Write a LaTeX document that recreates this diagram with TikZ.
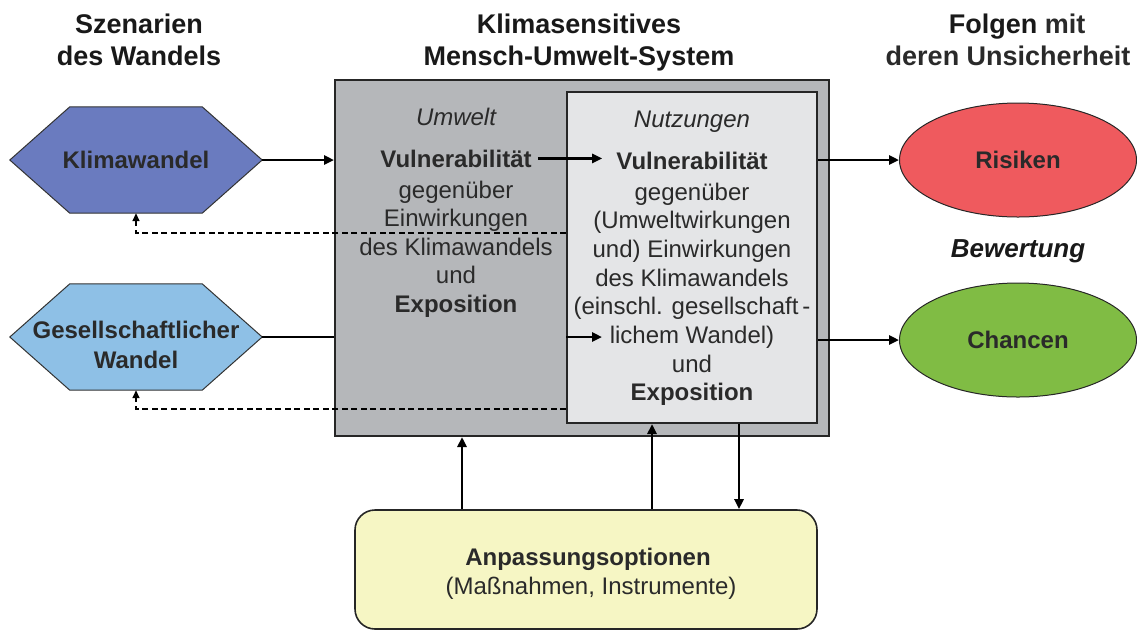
\documentclass[tikz,border=0pt]{standalone}
\usepackage{fontspec}
\setmainfont{Liberation Sans}
\usetikzlibrary{shapes.geometric,arrows.meta}

\definecolor{txtgray}{HTML}{2A2A2A}
\definecolor{shellgray}{HTML}{B5B7BA}
\definecolor{innergray}{HTML}{E4E5E7}
\definecolor{kwblue}{HTML}{6A7BBF}
\definecolor{gwblue}{HTML}{8EC0E6}
\definecolor{riskred}{HTML}{EF5A5E}
\definecolor{chancegreen}{HTML}{80BC44}
\definecolor{anpyellow}{HTML}{F6F6C4}

\begin{document}
\begin{tikzpicture}[x=1pt,y=-1pt,
  txt/.style={inner sep=0pt, text=txtgray, font=\fontsize{24}{29}\selectfont, anchor=base},
  btxt/.style={txt, font=\fontsize{24}{29}\selectfont\bfseries},
  ttl/.style={inner sep=0pt, text=black!90, font=\fontsize{27}{33}\selectfont\bfseries, anchor=base},
  arr/.style={line width=2.8pt, -{Triangle[length=10pt,width=9pt]}},
  link/.style={line width=2.8pt},
  dasharr/.style={line width=1.6pt, dash pattern=on 6pt off 3.5pt, -{Triangle[length=8pt,width=7pt]}},
  hexbox/.style={rectangle, inner sep=0pt, minimum width=252pt, minimum height=106pt},
  hexframe/.style={draw=black!80, line width=1pt},
  shell/.style={rectangle, draw=black!85, line width=2pt, inner sep=0pt},
  oval/.style={ellipse, draw=black!85, line width=1pt, inner sep=0pt,
    minimum width=237pt, minimum height=114pt, text=txtgray,
    font=\fontsize{24}{29}\selectfont\bfseries},
  panel/.style={rectangle, rounded corners=20pt, draw=black!85, line width=1.6pt,
    fill=anpyellow, inner sep=0pt}
]
\useasboundingbox (0,0) rectangle (1137,630);
\clip (0,0) rectangle (1137,630);

% column headings
\node[ttl] (h1a) at (139,33) {Szenarien};
\node[ttl] (h1b) at (139,65) {des Wandels};
\node[ttl] (h2a) at (579,33) {Klimasensitives};
\node[ttl] (h2b) at (579,65) {Mensch-Umwelt-System};
\node[ttl] (h3a) at (1017,33) {Folgen \textcolor{txtgray}{mit}};
\node[ttl, text=txtgray] (h3b) at (1008,65) {deren Unsicherheit};

% scenario hexagons
\node[hexbox] (kw) at (136,160) {};
\draw[hexframe, fill=kwblue] (kw.west) -- ([xshift=60pt]kw.north west) -- ([xshift=-60pt]kw.north east)
  -- (kw.east) -- ([xshift=-60pt]kw.south east) -- ([xshift=60pt]kw.south west) -- cycle;
\node[hexbox] (gw) at (136,337) {};
\draw[hexframe, fill=gwblue] (gw.west) -- ([xshift=60pt]gw.north west) -- ([xshift=-60pt]gw.north east)
  -- (gw.east) -- ([xshift=-60pt]gw.south east) -- ([xshift=60pt]gw.south west) -- cycle;
\node[btxt, anchor=center] (kwt) at (136,160) {Klimawandel};
\node[btxt] (gwt1) at (136,338) {Gesellschaftlicher};
\node[btxt] (gwt2) at (136,368) {Wandel};

% system boxes
\node[shell, fill=shellgray, minimum width=494pt, minimum height=356pt] (sys) at (582,258) {};
\node[shell, fill=innergray, minimum width=250pt, minimum height=331pt] (nu) at (692,257.5) {};

% environment column
\node[txt, font=\fontsize{24}{29}\selectfont\itshape] (uw) at (456,125) {Umwelt};
\node[btxt, anchor=base] (vu1) at (456,167) {Vulnerabilität};
\foreach \t [count=\i] in {{gegenüber}, {Einwirkungen}, {des Klimawandels}, {und}, {\textbf{Exposition}}}
  \node[txt] (ul\i) at (456,{198+28.5*(\i-1)}) {\t};

% land-use column
\node[txt, font=\fontsize{24}{29}\selectfont\itshape] (nt) at (692,127) {Nutzungen};
\node[btxt] (vu2) at (692,169) {Vulnerabilität};
\foreach \t [count=\i] in {{gegenüber}, {(Umweltwirkungen}, {und) Einwirkungen}, {des Klimawandels},
    {(einschl. gesellschaft\,-}, {lichem Wandel)}, {und}, {\textbf{Exposition}}}
  \node[txt] (nl\i) at (692,{200+28.7*(\i-1)}) {\t};

% consequences
\node[oval, fill=riskred] (ri) at (1018,160) {Risiken};
\node[oval, fill=chancegreen] (ch) at (1018,340) {Chancen};
\node[txt, text=black!90, font=\fontsize{26}{30}\selectfont\bfseries\itshape] (bw) at (1018,257) {Bewertung};

% adaptation options
\node[panel, minimum width=462pt, minimum height=119pt] (anp) at (586,569.5) {};
\node[btxt] (anp1) at (588,565) {Anpassungsoptionen};
\node[txt] (anp2) at (591,594) {(Maßnahmen, Instrumente)};

% helper positions
\coordinate (dy1) at (0,233);
\coordinate (dy2) at (0,409);
\coordinate (ax1) at (462,0);
\coordinate (ax2) at (652,0);
\coordinate (ax3) at (739,0);
\coordinate (gwin) at (602,337);

% connectors
\draw[arr] (kw.east) -- (sys.west |- kw.east);
\draw[link] (gw.east) -- (sys.west |- gw.east);
\draw[arr] (nu.west |- gw.east) -- (gwin);
\draw[arr] ([xshift=6pt]vu1.east) -- ([xshift=-14pt]vu2.west |- vu1.east);
\draw[arr] (nu.east |- ri.west) -- (ri.west);
\draw[arr] (nu.east |- ch.west) -- (ch.west);
\draw[dasharr] (nu.west |- dy1) -| (kw.south);
\draw[dasharr] (nu.west |- dy2) -| (gw.south);
\draw[arr] (anp.north -| ax1) -- (sys.south -| ax1);
\draw[arr] (anp.north -| ax2) -- (nu.south -| ax2);
\draw[arr] (nu.south -| ax3) -- (anp.north -| ax3);
\end{tikzpicture}
\end{document}
